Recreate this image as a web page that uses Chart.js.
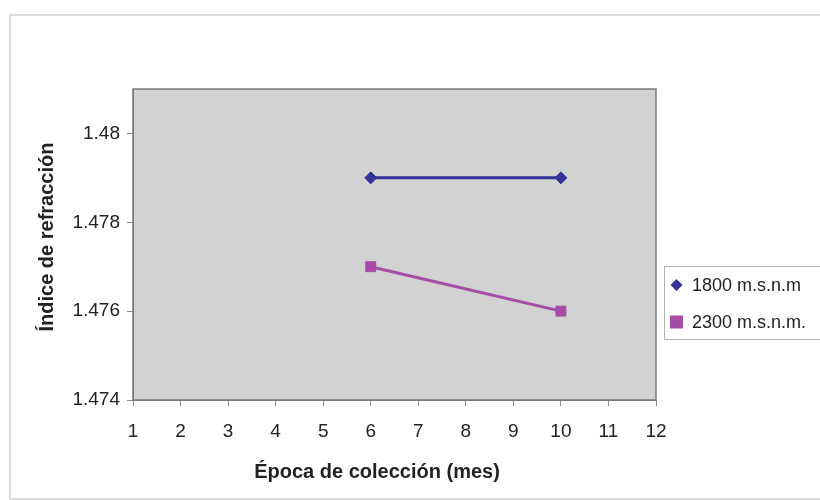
<!DOCTYPE html>
<html>
<head>
<meta charset="utf-8">
<script src="https://cdn.jsdelivr.net/npm/chart.js@4/dist/chart.umd.min.js"></script>
<style>
  html, body { margin: 0; padding: 0; background: #ffffff; }
  #wrap { width: 820px; height: 500px; }
</style>
</head>
<body>
<div id="wrap"><canvas id="c" width="820" height="500"></canvas></div>
<script>
// Collection month and refraction index per altitude
const months = [6, 10];
const serie1800 = [1.479, 1.479];
const serie2300 = [1.477, 1.476];
const seriesLabels = ['1800 m.s.n.m', '2300 m.s.n.m.'];
const yTicks = [1.474, 1.476, 1.478, 1.48];
const xTitle = 'Época de colección (mes)';
const yTitle = 'Índice de refracción';

const FONT = "'Liberation Sans', Arial, sans-serif";
const INK = '#222222';

const framePlugin = {
  id: 'frame',
  beforeDraw(chart) {
    const { ctx, chartArea: a } = chart;
    ctx.save();
    ctx.fillStyle = '#ffffff';
    ctx.fillRect(0, 0, chart.width, chart.height);
    // outer chart border
    ctx.strokeStyle = '#dcdcdc';
    ctx.lineWidth = 2;
    ctx.strokeRect(10, 15, 830, 484);
    // plot area fill
    ctx.fillStyle = '#d2d2d2';
    ctx.fillRect(a.left, a.top, a.right - a.left, a.bottom - a.top);
    ctx.restore();
  },
  afterDatasetsDraw(chart) {
    const { ctx, chartArea: a } = chart;
    ctx.save();
    ctx.strokeStyle = '#7a7a7a';
    ctx.lineWidth = 1.5;
    ctx.strokeRect(a.left, a.top, a.right - a.left, a.bottom - a.top);
    ctx.restore();
  },
  afterDraw(chart) {
    const { ctx } = chart;
    const ds = chart.data.datasets;
    ctx.save();
    // axis titles
    ctx.fillStyle = INK;
    ctx.font = 'bold 20px ' + FONT;
    ctx.textAlign = 'center';
    ctx.textBaseline = 'middle';
    ctx.fillText(xTitle, 377, 472);
    ctx.translate(47, 237);
    ctx.rotate(-Math.PI / 2);
    ctx.fillText(yTitle, 0, 0);
    ctx.setTransform(1, 0, 0, 1, 0, 0);

    // legend box
    ctx.fillStyle = '#ffffff';
    ctx.fillRect(665, 267, 160, 73);
    ctx.strokeStyle = '#b0b0b0';
    ctx.lineWidth = 1;
    ctx.strokeRect(664.5, 266.5, 160, 73);
    ctx.font = '18px ' + FONT;
    ctx.textAlign = 'left';
    ctx.textBaseline = 'middle';
    const rows = [285, 322];
    ds.forEach((d, i) => {
      const y = rows[i];
      const x = 676.5;
      ctx.fillStyle = d.borderColor;
      if (d.pointStyle === 'rectRot') {
        ctx.beginPath();
        ctx.moveTo(x, y - 6); ctx.lineTo(x + 6, y); ctx.lineTo(x, y + 6); ctx.lineTo(x - 6, y);
        ctx.closePath(); ctx.fill();
      } else {
        ctx.fillRect(x - 6.5, y - 6.5, 13, 13);
      }
      ctx.fillStyle = INK;
      ctx.fillText(d.label, 692, y + 1);
    });
    ctx.restore();
  }
};

const toPoints = (ys) => months.map((m, i) => ({ x: m, y: ys[i] }));

new Chart(document.getElementById('c'), {
  type: 'line',
  data: {
    datasets: [
      {
        label: seriesLabels[0],
        data: toPoints(serie1800),
        borderColor: '#333399',
        backgroundColor: '#333399',
        borderWidth: 3,
        pointStyle: 'rectRot',
        pointRadius: 6,
        pointBorderWidth: 1
      },
      {
        label: seriesLabels[1],
        data: toPoints(serie2300),
        borderColor: '#a64ca6',
        backgroundColor: '#a64ca6',
        borderWidth: 3,
        pointStyle: 'rect',
        pointRadius: 7,
        pointBorderWidth: 1
      }
    ]
  },
  options: {
    responsive: false,
    animation: false,
    layout: { padding: { left: 10, top: 89, right: 164, bottom: 0 } },
    plugins: { legend: { display: false }, tooltip: { enabled: false } },
    scales: {
      x: {
        type: 'linear',
        min: 1, max: 12,
        afterFit(s) { s.height = 100; },
        ticks: { stepSize: 1, color: INK, font: { family: FONT, size: 19 }, padding: 14 },
        grid: { drawOnChartArea: false, drawTicks: true, tickLength: 6, color: '#8a8a8a' },
        border: { color: '#7a7a7a' }
      },
      y: {
        min: 1.474, max: 1.481,
        afterFit(s) { s.width = 123; },
        afterBuildTicks(s) { s.ticks = yTicks.map(v => ({ value: v })); },
        ticks: {
          color: INK, font: { family: FONT, size: 19 }, padding: 7,
          callback: v => String(+v.toFixed(3))
        },
        grid: { drawOnChartArea: false, drawTicks: true, tickLength: 6, color: '#8a8a8a' },
        border: { color: '#7a7a7a' }
      }
    }
  },
  plugins: [framePlugin]
});
</script>
</body>
</html>
